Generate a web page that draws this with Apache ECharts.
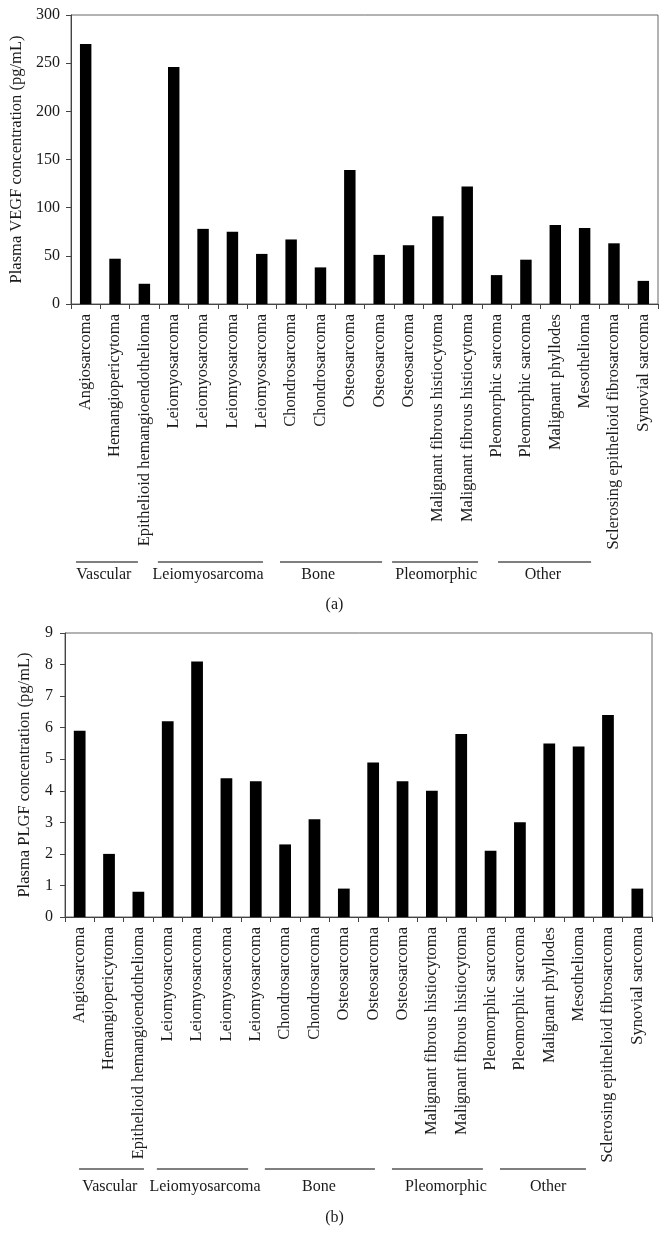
<!DOCTYPE html>
<html>
<head>
<meta charset="utf-8">
<script src="https://cdn.jsdelivr.net/npm/echarts@6/dist/echarts.min.js"></script>
<style>html,body{margin:0;padding:0;background:#fff;}#c{width:669px;height:1250px;}</style>
</head>
<body>
<div id="c"></div>
<script>
const categories = ['Angiosarcoma','Hemangiopericytoma','Epithelioid hemangioendothelioma','Leiomyosarcoma','Leiomyosarcoma','Leiomyosarcoma','Leiomyosarcoma','Chondrosarcoma','Chondrosarcoma','Osteosarcoma','Osteosarcoma','Osteosarcoma','Malignant fibrous histiocytoma','Malignant fibrous histiocytoma','Pleomorphic sarcoma','Pleomorphic sarcoma','Malignant phyllodes','Mesothelioma','Sclerosing epithelioid fibrosarcoma','Synovial sarcoma'];
const vegfValues = [270,47,21,246,78,75,52,67,38,139,51,61,91,122,30,46,82,79,63,24];
const plgfValues = [5.9,2.0,0.8,6.2,8.1,4.4,4.3,2.3,3.1,0.9,4.9,4.3,4.0,5.8,2.1,3.0,5.5,5.4,6.4,0.9];
const groupNames = ['Vascular','Leiomyosarcoma','Bone','Pleomorphic','Other'];
const vegfAxisName = 'Plasma VEGF concentration (pg/mL)';
const plgfAxisName = 'Plasma PLGF concentration (pg/mL)';
const captions = ['(a)','(b)'];

// layout (pixels / category units)
const W = 669;
const grids = [
  {left:71, right:W-658, top:15, height:289},
  {left:65, right:W-652, top:633, height:284}
];
const groupLayout = [
  {lineY:562, textY:575, captionY:605,
   spans:[[0.17,2.28],[2.96,6.54],[7.12,10.6],[10.94,13.87],[14.55,17.72]],
   textU:[1.12,4.67,8.42,12.44,16.08]},
  {lineY:1169, textY:1187, captionY:1218,
   spans:[[0.48,2.69],[3.13,6.24],[6.81,10.56],[11.14,14.24],[14.82,17.75]],
   textU:[1.53,4.77,8.65,12.98,16.46]}
];

const FONT = '"Liberation Serif", "DejaVu Serif", serif';
const TXT = '#1a1a1a';
const AX = '#444';

function xAxisCfg(gi){
  return {
    type:'category', gridIndex:gi, data:categories,
    axisLine:{show:true,lineStyle:{color:AX,width:1}},
    axisTick:{show:true,inside:false,length:5,alignWithLabel:false,lineStyle:{color:AX}},
    axisLabel:{interval:0,rotate:90,margin:10,fontFamily:FONT,fontSize:16.5,color:TXT},
    splitLine:{show:false}
  };
}
function yAxisCfg(gi,max,interval,name,gap,margin){
  return {
    type:'value', gridIndex:gi, min:0, max:max, interval:interval,
    name:name, nameLocation:'middle', nameGap:gap, nameRotate:90,
    nameTextStyle:{fontFamily:FONT,fontSize:16.5,color:TXT},
    axisLine:{show:true,lineStyle:{color:AX,width:1}},
    axisTick:{show:true,inside:false,length:5,lineStyle:{color:AX}},
    axisLabel:{margin:margin,fontFamily:FONT,fontSize:16,color:TXT},
    splitLine:{show:false}
  };
}

const graphics = [];
groupLayout.forEach((g,gi)=>{
  const gr = grids[gi];
  const step = (W - gr.left - gr.right) / categories.length;
  g.spans.forEach((s,k)=>{
    graphics.push({type:'line',shape:{x1:gr.left+s[0]*step,y1:g.lineY,x2:gr.left+s[1]*step,y2:g.lineY},
      style:{stroke:'#555',lineWidth:1.5}});
    graphics.push({type:'text',x:gr.left+g.textU[k]*step,y:g.textY,
      style:{text:groupNames[k],font:'16px '+FONT,fill:TXT,textAlign:'center',textVerticalAlign:'middle'}});
  });
  graphics.push({type:'text',x:W/2,y:g.captionY,
    style:{text:captions[gi],font:'16px '+FONT,fill:TXT,textAlign:'center',textVerticalAlign:'middle'}});
});

const chart = echarts.init(document.getElementById('c'),null,{renderer:'canvas'});
chart.setOption({
  animation:false,
  backgroundColor:'#fff',
  grid: grids.map(g=>Object.assign({show:true,borderColor:'#666',borderWidth:1,backgroundColor:'transparent'},g)),
  xAxis:[xAxisCfg(0),xAxisCfg(1)],
  yAxis:[yAxisCfg(0,300,50,vegfAxisName,45,11),yAxisCfg(1,9,1,plgfAxisName,32,12)],
  series:[
    {type:'bar',xAxisIndex:0,yAxisIndex:0,data:vegfValues,barWidth:'39%',itemStyle:{color:'#000'}},
    {type:'bar',xAxisIndex:1,yAxisIndex:1,data:plgfValues,barWidth:'40%',itemStyle:{color:'#000'}}
  ],
  graphic:graphics
});
</script>
</body>
</html>
